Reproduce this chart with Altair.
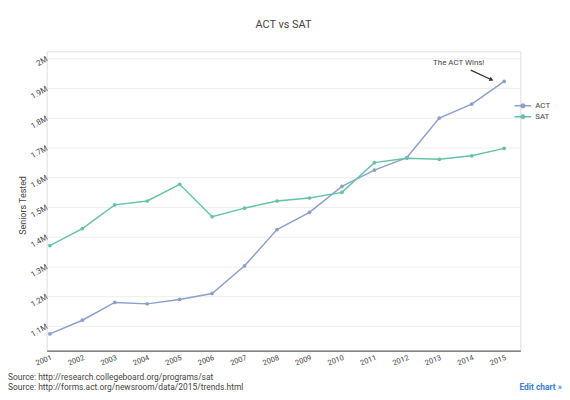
import altair as alt
import pandas as pd

years = list(range(2001, 2016))
act_m = [1.073, 1.119, 1.179, 1.174, 1.189, 1.209, 1.302, 1.424, 1.482, 1.569,
         1.624, 1.666, 1.799, 1.846, 1.922]
sat_m = [1.370, 1.427, 1.507, 1.520, 1.576, 1.467, 1.496, 1.520, 1.530, 1.549,
         1.649, 1.664, 1.660, 1.672, 1.697]
series = ["ACT", "SAT"]
colors = ["#8da0cb", "#66c2a5"]
y_ticks = [1.1e6, 1.2e6, 1.3e6, 1.4e6, 1.5e6, 1.6e6, 1.7e6, 1.8e6, 1.9e6, 2.0e6]
sources = ["Source: http://research.collegeboard.org/programs/sat",
           "Source: http://forms.act.org/newsroom/data/2015/trends.html"]
annotation_text = "The ACT Wins!"

rows = []
for name, vals in zip(series, [act_m, sat_m]):
    for yr, v in zip(years, vals):
        rows.append({"year": yr, "value": v * 1e6, "series": name})
df = pd.DataFrame(rows)

FONT = "Roboto"
TXT = "#444444"

xscale = alt.Scale(domain=[2000.9, 2015.5], nice=False, zero=False)
yscale = alt.Scale(domain=[1016700, 2023300], nice=False, zero=False)

legend_symbol = "M-1,0L1,0M-0.22,0A0.22,0.22,0,1,1,0.22,0A0.22,0.22,0,1,1,-0.22,0Z"

base = alt.Chart(df).encode(
    x=alt.X("year:Q", scale=xscale,
            axis=alt.Axis(values=years, tickCount=30, format="d", labelAngle=-20,
                          labelAlign="right", labelBaseline="top", grid=False, ticks=False,
                          domainColor="#444444", labelColor=TXT, labelFontSize=7.5,
                          labelPadding=3, title=None, labelFont=FONT, labelOverlap=False)),
    y=alt.Y("value:Q", scale=yscale,
            axis=alt.Axis(values=y_ticks, tickCount=30, format="~s", labelAngle=-30,
                          labelAlign="right", labelBaseline="middle", domain=False,
                          ticks=False, gridColor="#eeeeee", labelColor=TXT,
                          labelFontSize=8, labelPadding=0, labelFont=FONT,
                          labelOverlap=False,
                          title="Seniors Tested", titleFontSize=9, titleFontWeight="normal",
                          titleColor=TXT, titleFont=FONT, titleAngle=-90, titleX=-24,
                          titleY=155, titleAlign="center", titleBaseline="middle")),
    color=alt.Color("series:N", scale=alt.Scale(domain=series, range=colors),
                    legend=alt.Legend(orient="none", legendX=471, legendY=49.5, title=None,
                                      symbolType=legend_symbol, symbolSize=289,
                                      symbolStrokeWidth=1.5, labelFontSize=8,
                                      labelColor=TXT, labelFont=FONT, labelOffset=3,
                                      rowPadding=0, clipHeight=11)),
)

lines = base.mark_line(strokeWidth=1.5)
points = base.mark_point(filled=True, size=14, opacity=1)

ann_df = pd.DataFrame({"x": [2013.97], "x2": [2014.61], "y": [1.96e6], "y2": [1.928e6],
                       "tx": [2013.6], "ty": [1.984e6], "label": [annotation_text]})
arrow = alt.Chart(ann_df).mark_rule(color="#333333", strokeWidth=1.2).encode(
    x=alt.X("x:Q", scale=xscale), x2="x2", y=alt.Y("y:Q", scale=yscale), y2="y2")
head = alt.Chart(ann_df).mark_point(shape="triangle-right", filled=True, color="#333333",
                                    size=22, angle=24, opacity=1).encode(
    x=alt.X("x2:Q", scale=xscale), y=alt.Y("y2:Q", scale=yscale))
ann_text = alt.Chart(ann_df).mark_text(fontSize=8, color=TXT, font=FONT).encode(
    x=alt.X("tx:Q", scale=xscale), y=alt.Y("ty:Q", scale=yscale), text="label:N")

src1 = alt.Chart(pd.DataFrame({"t": [sources[0]]})).mark_text(
    align="left", baseline="middle", fontSize=8.5, color=TXT, font=FONT).encode(
    x=alt.value(-39), y=alt.value(329), text="t:N")
src2 = alt.Chart(pd.DataFrame({"t": [sources[1]]})).mark_text(
    align="left", baseline="middle", fontSize=8.5, color=TXT, font=FONT).encode(
    x=alt.value(-39), y=alt.value(339), text="t:N")
edit = alt.Chart(pd.DataFrame({"t": ["Edit chart »"]})).mark_text(
    align="right", baseline="middle", fontSize=8.5, fontWeight="bold", color="#3b7dd8",
    font=FONT).encode(x=alt.value(520), y=alt.value(339), text="t:N")

chart = alt.layer(lines, points, arrow, head, ann_text, src1, src2, edit).properties(
    width=478, height=302,
    autosize=alt.AutoSizeParams(type="none"),
    padding={"left": 39, "top": 42, "right": 42, "bottom": 40},
    title=alt.TitleParams("ACT vs SAT", fontSize=11, fontWeight="normal", color=TXT,
                          font=FONT, anchor="middle", frame="group", offset=16,
                          baseline="middle"),
).configure_view(stroke=None).configure(font=FONT)

chart.save("out.html", embed_options={"renderer": "svg", "actions": False})
